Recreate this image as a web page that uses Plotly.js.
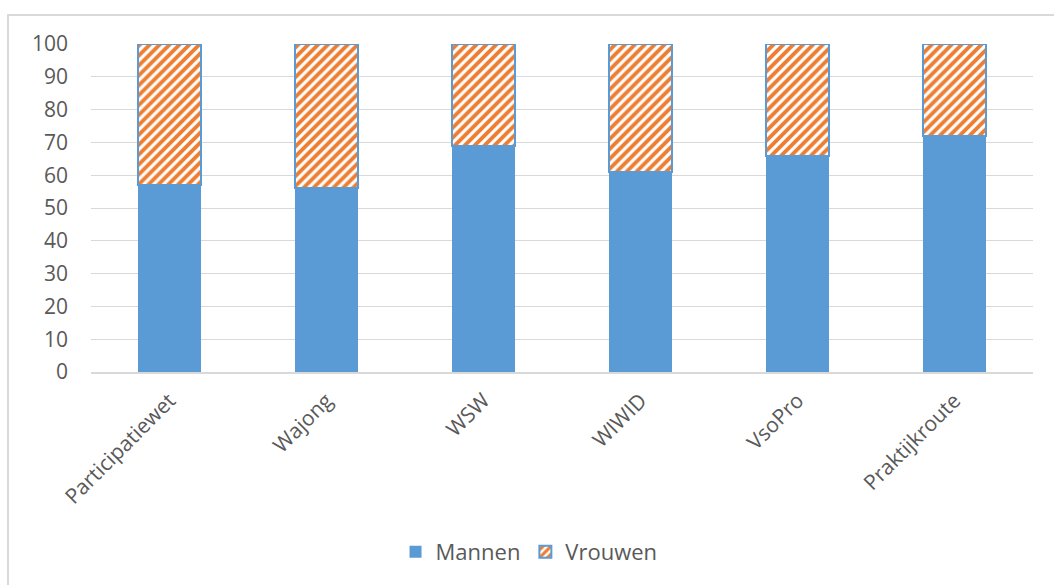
<!DOCTYPE html>
<html>
<head>
<meta charset="utf-8">
<script src="https://cdn.plot.ly/plotly-3.0.1.min.js"></script>
<style>
  html, body { margin: 0; padding: 0; background: #fff; overflow: hidden; }
  #chart { width: 1054px; height: 585px; }
  #frame { position: absolute; left: 7px; top: 14px; width: 1060px; height: 600px; border: 2px solid #d9d9d9; pointer-events: none; box-sizing: border-box; }
</style>
</head>
<body>
<div id="chart"></div>
<div id="frame"></div>
<script>
const categories = ["Participatiewet", "Wajong", "WSW", "WIWID", "VsoPro", "Praktijkroute"];
const mannen = [57, 56, 69, 61, 66, 72];
const vrouwen = [43, 44, 31, 39, 34, 28];
const yTicks = [0, 10, 20, 30, 40, 50, 60, 70, 80, 90, 100];

const font = "'Open Sans', 'DejaVu Sans', sans-serif";

const traces = [
  {
    type: "bar", name: "Mannen", x: categories, y: mannen,
    marker: { color: "#5B9BD5", line: { width: 0 } },
    hoverinfo: "skip"
  },
  {
    type: "bar", name: "Vrouwen", x: categories, y: vrouwen,
    marker: {
      color: "#ffffff",
      line: { color: "#5B9BD5", width: 2 },
      pattern: { shape: "/", fgcolor: "#ED7D31", bgcolor: "#ffffff", fgopacity: 1, size: 7, solidity: 0.55, fillmode: "replace" }
    },
    hoverinfo: "skip"
  }
];

const layout = {
  width: 1054, height: 585,
  margin: { l: 91, r: 21, t: 44, b: 213 },
  paper_bgcolor: "#ffffff", plot_bgcolor: "#ffffff",
  barmode: "stack", bargap: 0.6,
  font: { family: font, size: 21, color: "#595959" },
  showlegend: true,
  legend: {
    orientation: "h", x: 0.465, xanchor: "center", y: -0.549, yanchor: "middle",
    font: { family: font, size: 22, color: "#595959" },
    traceorder: "normal", itemwidth: 30
  },
  xaxis: {
    type: "category", tickangle: -45, showgrid: false,
    showline: true, linecolor: "#d9d9d9", linewidth: 2,
    ticks: "", ticklabelstandoff: 6,
    tickfont: { family: font, size: 21, color: "#595959" }
  },
  yaxis: {
    range: [0, 100], tickvals: yTicks, ticktext: yTicks.map(String),
    showgrid: true, gridcolor: "#d9d9d9", gridwidth: 1,
    zeroline: false, showline: false, ticks: "",
    ticklabelstandoff: 22,
    tickfont: { family: font, size: 21, color: "#595959" }
  }
};

Plotly.newPlot("chart", traces, layout, { staticPlot: true, displayModeBar: false });
</script>
</body>
</html>
